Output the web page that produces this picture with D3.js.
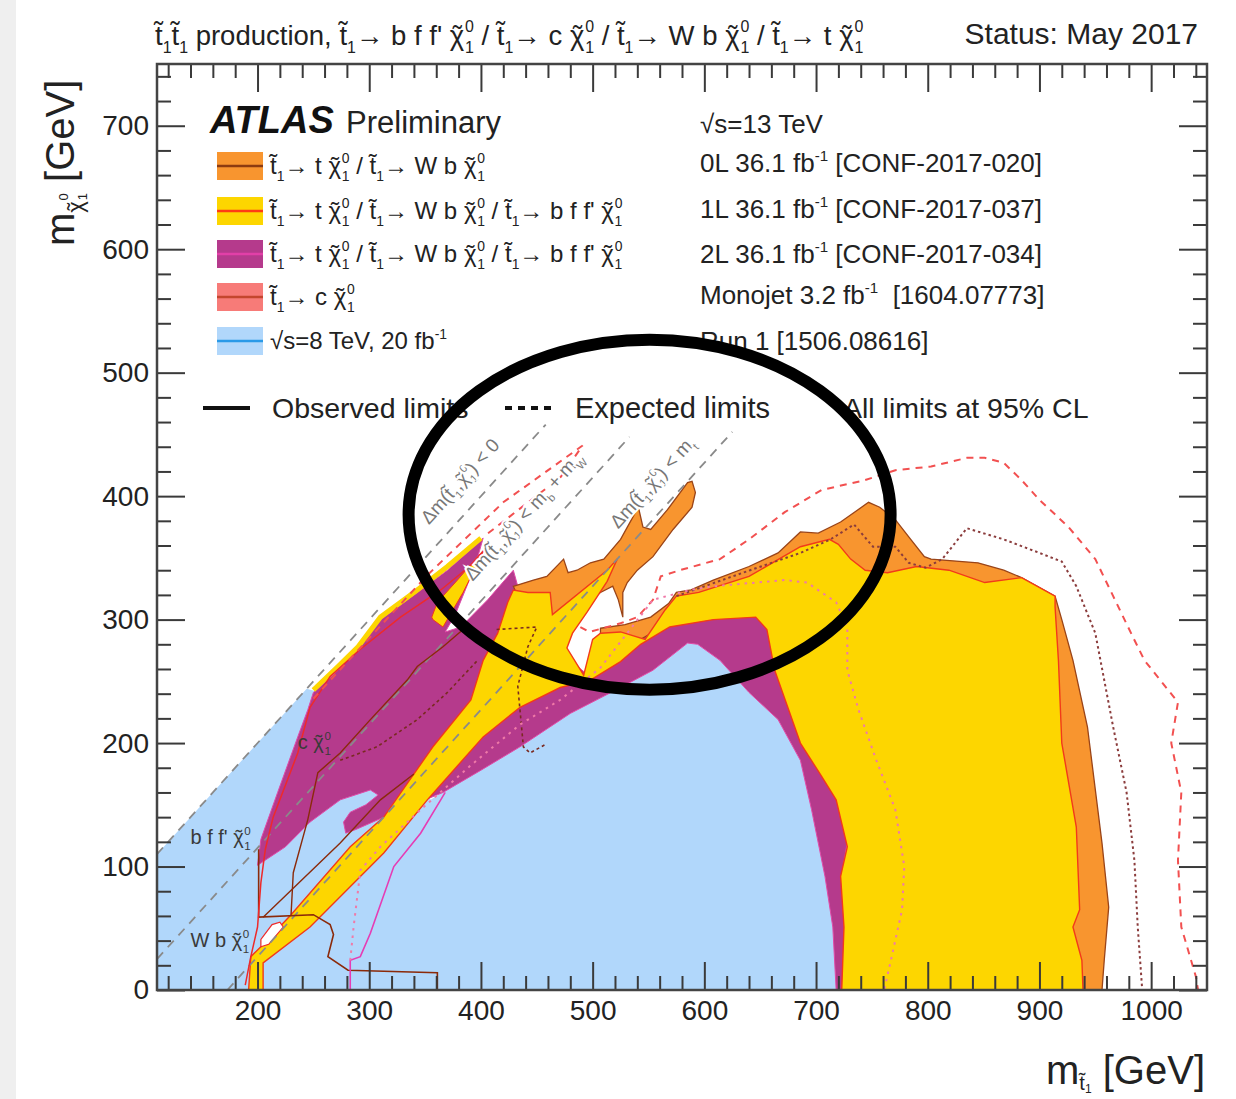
<!DOCTYPE html>
<html>
<head>
<meta charset="utf-8">
<script src="https://cdn.jsdelivr.net/npm/d3@7"></script>
<style>
body { margin: 0; background: #fff; }
text { font-family: "Liberation Sans", Arial, sans-serif; white-space: pre; }
</style>
</head>
<body>
<script>

// ---- data (GeV) ----
const xDomain = [110, 1050]
const yDomain = [0, 750]
const xMajor = [200, 300, 400, 500, 600, 700, 800, 900, 1000]
const yMajor = [0, 100, 200, 300, 400, 500, 600, 700]

// filled exclusion regions: [m_stop, m_LSP]
const run1Region = [[110,0],[110,110],[244,244],[300,230],[310,235],[355,154],[375,166],[435,197],[480,224],[525,245],[554,259],[585,281],[594,280],[614,267],[640,241],[666,219],[686,186],[696,146],[708,92],[715,51],[718,0]]

const twoLRegion = [[200,101],[203,122],[218,160],[236,205],[245,227],[250,241],[272,259],[290,276],[310,300],[343,322],[370,340],[402,366],[395,344],[386,324],[377,304],[368,290],[382,294],[406,316],[429,340],[433,327],[456,284],[492,258],[507,259],[525,270],[543,284],[569,298],[608,304],[646,306],[656,296],[663,263],[686,204],[705,177],[718,158],[728,120],[723,92],[727,51],[725,0],[718,0],[715,51],[708,92],[696,146],[686,186],[666,219],[640,241],[614,267],[594,280],[585,281],[554,259],[525,245],[480,224],[435,197],[400,178],[366,160],[313,140],[288,130],[279,127],[277,136],[283,144],[297,150],[308,158],[301,162],[274,154],[247,136],[225,116]]

const zeroLRegion = [[507,293],[529,296],[552,302],[568,313],[575,322],[588,324],[608,332],[640,343],[666,354],[686,371],[702,370],[722,379],[747,395],[757,391],[771,381],[783,367],[797,351],[803,349],[845,346],[868,340],[884,334],[914,319],[920,300],[930,267],[943,213],[956,119],[962,67],[958,24],[956,0],[775,0],[760,150],[700,310],[600,315],[568,297],[543,284],[507,286]]

const zeroLSpike = [[429,327],[447,332],[459,335],[474,349],[478,338],[486,340],[498,346],[510,349],[525,365],[536,383],[541,391],[545,375],[552,373],[567,389],[585,411],[589,412],[592,403],[589,391],[572,373],[554,351],[540,340],[531,330],[527,322],[527,302],[523,316],[518,327],[507,322],[486,308],[471,297],[459,294],[442,300]]

const oneLRegion = [[192,0],[194,27],[203,35],[230,61],[283,116],[313,140],[357,197],[391,235],[402,267],[415,289],[424,314],[429,324],[442,322],[462,322],[464,304],[513,340],[522,349],[513,331],[495,306],[482,289],[477,277],[492,255],[500,284],[507,289],[525,290],[547,284],[565,308],[575,319],[595,322],[640,335],[686,359],[712,365],[720,361],[731,349],[744,340],[764,338],[790,343],[819,340],[851,330],[884,334],[914,319],[914,310],[917,267],[920,200],[933,132],[936,65],[930,51],[938,24],[939,0],[723,0],[725,51],[722,92],[728,116],[718,154],[705,173],[686,200],[663,259],[656,292],[646,302],[608,300],[569,294],[543,280],[525,266],[498,251],[471,245],[435,229],[402,205],[352,154],[313,111],[247,51],[205,22],[205,0]]

const oneLSpike = [[357,300],[366,294],[384,322],[400,351],[402,356],[397,351],[379,332],[361,314],[356,302]]
const oneLEdge = [[250,243],[272,262],[290,278],[310,302],[343,324],[370,343],[400,366]]
const monojetGap = [[203,35],[210,37],[223,51],[220,55],[213,53],[203,41]]

// limit contours
const oneLObsEdge = [[189,4],[194,27],[200,51],[203,87],[207,114],[214,140],[236,192],[247,229],[265,254],[292,276],[328,302],[364,324],[391,344],[408,361]]
const oneLExpectedUpper = [[250,236],[300,285],[352,336],[420,395],[491,441],[471,415],[405,369]]
const oneLExpectedRight = [[489,294],[497,290],[525,297],[540,302],[554,316],[561,335],[578,340],[614,349],[640,365],[672,387],[705,405],[744,413],[771,421],[803,424],[835,431],[851,431],[868,427],[884,413],[900,397],[926,375],[950,349],[966,319],[982,289],[994,267],[1024,233],[1018,200],[1027,160],[1024,105],[1027,51],[1040,11],[1042,0]]
const zeroLExpected = [[575,319],[641,340],[686,354],[713,365],[734,377],[751,359],[771,359],[783,346],[798,342],[813,349],[835,374],[868,365],[900,354],[920,347],[933,327],[950,289],[966,213],[978,160],[985,105],[988,51],[992,0]]
const zeroLExpectedLow = [[414,292],[450,294],[442,278],[433,246],[438,197],[444,192],[458,199]]
const zeroLExpectedLobe = [[274,186],[307,197],[343,219],[370,241],[397,267]]
const zeroLObsLobe = [[230,61],[232,95],[245,138],[254,176],[274,192],[301,219],[334,251],[343,262],[366,278],[384,292]]
const zeroLObsBottom = [[201,114],[201,59],[250,61],[265,53],[268,45],[263,27],[281,16],[361,14],[361,0]]
const zeroLObsDiag = [[205,59],[274,119],[310,154],[340,175]]
const twoLObserved = [[283,0],[283,24],[292,27],[301,46],[322,100],[346,127],[364,154],[368,160]]
const twoLExpected = [[283,24],[286,51],[290,81],[292,97],[310,116],[346,146],[391,182],[435,215],[471,235],[507,261],[554,316],[587,324],[608,327],[672,332],[692,330],[718,314],[728,294],[728,259],[738,227],[754,186],[771,146],[779,100],[777,65],[767,24],[761,0]]

// kinematic boundaries
const kinLines = [[[110,110],[458,458]], [[110,25],[533,448]], [[173,0],[625,452]]]
const kinLabelAt = [[398,398],[455,370],[570,397]]

// '§' = neutralino symbol (chi with tilde), T = stop
const T = 't\u0303', CHI = '§'
const kinLabels = [
	`\u0394m(${T}_{1},${CHI}_{1}^{0}) < 0`,
	`\u0394m(${T}_{1},${CHI}_{1}^{0}) < m_{b} + m_{W}`,
	`\u0394m(${T}_{1},${CHI}_{1}^{0}) < m_{t}`
]
const regionLabels = [`b f f' ${CHI}_{1}^{0}`, `W b ${CHI}_{1}^{0}`, `c ${CHI}_{1}^{0}`]
const regionLabelAt = [[140,118],[140,35],[236,195]]

const legendLabels = [
	`${T}_{1}\u2192 t ${CHI}_{1}^{0} / ${T}_{1}\u2192 W b ${CHI}_{1}^{0}`,
	`${T}_{1}\u2192 t ${CHI}_{1}^{0} / ${T}_{1}\u2192 W b ${CHI}_{1}^{0} / ${T}_{1}\u2192 b f f' ${CHI}_{1}^{0}`,
	`${T}_{1}\u2192 t ${CHI}_{1}^{0} / ${T}_{1}\u2192 W b ${CHI}_{1}^{0} / ${T}_{1}\u2192 b f f' ${CHI}_{1}^{0}`,
	`${T}_{1}\u2192 c ${CHI}_{1}^{0}`,
	`\u221As=8 TeV, 20 fb^{-1}`
]
const infoLabels = [
	'\u221As=13 TeV',
	'0L 36.1 fb^{-1} [CONF-2017-020]',
	'1L 36.1 fb^{-1} [CONF-2017-037]',
	'2L 36.1 fb^{-1} [CONF-2017-034]',
	'Monojet 3.2 fb^{-1}  [1604.07773]',
	'Run 1 [1506.08616]'
]
const titleText = `${T}_{1}${T}_{1} production, ${T}_{1}\u2192 b f f' ${CHI}_{1}^{0} / ${T}_{1}\u2192 c ${CHI}_{1}^{0} / ${T}_{1}\u2192 W b ${CHI}_{1}^{0} / ${T}_{1}\u2192 t ${CHI}_{1}^{0}`

// ---- styling ----
const fills = { run1: '#b1d7fb', twoL: '#b53a8c', zeroL: '#f8952f', oneL: '#fdd600', mono: '#f77b78' }
const legendFill = [fills.zeroL, fills.oneL, fills.twoL, fills.mono, fills.run1]
const legendLine = ['#8c3b10', '#ff3c14', '#e23fa8', '#c4462e', '#2a9ae8']

const width = 1236, height = 1099
const plot = { left: 157, right: 1207, top: 64, bottom: 990 }

const x = d3.scaleLinear().domain(xDomain).range([plot.left, plot.right])
const y = d3.scaleLinear().domain(yDomain).range([plot.bottom, plot.top])
const line = d3.line().x(d => x(d[0])).y(d => y(d[1]))
const area = pts => line(pts) + 'Z'

const svg = d3.select('body').append('svg')
	.attr('width', width)
	.attr('height', height)

svg.append('rect').attr('width', width).attr('height', height).attr('fill', '#fff')
svg.append('rect').attr('width', 16).attr('height', height).attr('fill', '#efefef')

// rich text: _{sub} ^{sup} _{sub}^{sup} (stacked) and § for chi-tilde
function rich(sel, str, fs) {
	const re = /(_\{[^}]*\}\^\{[^}]*\}|_\{[^}]*\}|\^\{[^}]*\}|§)/
	let cur = 0, pend = 0
	const s = fs * 0.58
	str.split(re).filter(p => p && p.length).forEach(p => {
		if (p === '§') {
			sel.append('tspan').attr('dx', pend).attr('dy', -cur).text('\u03c7')
			cur = 0
			// tilde drawn back over the chi
			sel.append('tspan').attr('dx', -0.4167 * fs).text('\u02dc')
			pend = 0.0833 * fs
			return
		}
		let m = p.match(/^_\{([^}]*)\}\^\{([^}]*)\}$/)
		if (m) {
			sel.append('tspan').attr('dx', pend + fs * 0.03).attr('dy', -fs * 0.46 - cur).attr('font-size', s).text(m[2])
			sel.append('tspan').attr('dx', -s * 0.556 * m[2].length).attr('dy', fs * 0.76).attr('font-size', s).text(m[1])
			cur = fs * 0.3
			pend = 0
			return
		}
		m = p.match(/^_\{([^}]*)\}$/)
		if (m) {
			sel.append('tspan').attr('dx', pend).attr('dy', fs * 0.3 - cur).attr('font-size', s).text(m[1])
			cur = fs * 0.3
			pend = 0
			return
		}
		m = p.match(/^\^\{([^}]*)\}$/)
		if (m) {
			sel.append('tspan').attr('dx', pend).attr('dy', -fs * 0.42 - cur).attr('font-size', s).text(m[1])
			cur = -fs * 0.42
			pend = 0
			return
		}
		sel.append('tspan').attr('dx', pend).attr('dy', -cur).text(p)
		cur = 0
		pend = 0
	})
	return sel
}

svg.append('clipPath').attr('id', 'clip')
	.append('rect')
	.attr('x', plot.left).attr('y', plot.top)
	.attr('width', plot.right - plot.left).attr('height', plot.bottom - plot.top)

const g = svg.append('g').attr('clip-path', 'url(#clip)')

// regions
g.append('path').attr('d', area(run1Region)).attr('fill', fills.run1)
g.append('path').attr('d', area(twoLRegion)).attr('fill', fills.twoL)
	.attr('stroke', '#e04aa8').attr('stroke-width', 1)
g.append('path').attr('d', area(zeroLRegion)).attr('fill', fills.zeroL)
	.attr('stroke', '#9a4418').attr('stroke-width', 1.3)
g.append('path').attr('d', area(zeroLSpike)).attr('fill', fills.zeroL)
	.attr('stroke', '#9a4418').attr('stroke-width', 1.3)
g.append('path').attr('d', area(oneLRegion)).attr('fill', fills.oneL)
	.attr('stroke', '#f23a1a').attr('stroke-width', 1.4)
g.append('path').attr('d', area(oneLSpike)).attr('fill', fills.oneL)
	.attr('stroke', '#f23a1a').attr('stroke-width', 1)
g.append('path').attr('d', line(oneLEdge)).attr('fill', 'none')
	.attr('stroke', fills.oneL).attr('stroke-width', 5)
g.append('path').attr('d', area(monojetGap)).attr('fill', '#fff')
	.attr('stroke', '#ee2a2a').attr('stroke-width', 1.2)

// kinematic lines
g.selectAll('.kin')
	.data(kinLines)
	.enter().append('path')
	.attr('d', d => line(d))
	.attr('fill', 'none')
	.attr('stroke', '#8a8a8a')
	.attr('stroke-width', 1.8)
	.attr('stroke-dasharray', '9,7')

// contours
const contours = [
	[zeroLObsBottom, '#8b2a0a', 1.6, null],
	[zeroLObsDiag, '#8b2a0a', 1.4, null],
	[zeroLObsLobe, '#8b2a0a', 1.4, null],
	[zeroLExpectedLobe, '#7a2a20', 1.6, '3,3'],
	[zeroLExpectedLow, '#7a2a20', 1.6, '3,3'],
	[zeroLExpected, '#8b3c3c', 2, '2.5,3'],
	[oneLObsEdge, '#ee2a2a', 1.5, null],
	[oneLExpectedUpper, '#f25050', 2, '7,6'],
	[oneLExpectedRight, '#f25050', 2, '7,6'],
	[twoLObserved, '#e63cb4', 1.6, null],
	[twoLExpected, '#f07aa8', 2, '2.5,5']
]
contours.forEach(c => {
	g.append('path')
		.attr('d', line(c[0]))
		.attr('fill', 'none')
		.attr('stroke', c[1])
		.attr('stroke-width', c[2])
		.attr('stroke-dasharray', c[3])
})

// kinematic labels along the lines
const angle = Math.atan2(y(1) - y(0), x(1) - x(0)) * 180 / Math.PI
kinLabels.forEach((t, i) => {
	const px = x(kinLabelAt[i][0]) - 14, py = y(kinLabelAt[i][1]) - 13
	const txt = svg.append('text')
		.attr('transform', `translate(${px},${py}) rotate(${angle})`)
		.attr('text-anchor', 'middle')
		.attr('font-size', 19)
		.attr('fill', '#777')
		.attr('stroke', '#fff').attr('stroke-width', 4).attr('paint-order', 'stroke')
	rich(txt, t, 19)
})

regionLabels.forEach((t, i) => {
	const txt = svg.append('text')
		.attr('x', x(regionLabelAt[i][0]))
		.attr('y', y(regionLabelAt[i][1]))
		.attr('font-size', 20)
		.attr('fill', '#3a3a3a')
	rich(txt, t, 20)
})

// axes
const xMinor = d3.range(120, 1050, 20).filter(v => v % 100)
const yMinor = d3.range(20, 750, 20).filter(v => v % 100)

function styleAxis(sel) {
	sel.select('.domain').remove()
	sel.attr('font-family', '"Liberation Sans", Arial, sans-serif').attr('font-size', 28)
	sel.selectAll('.tick line').attr('stroke', '#3a3a3a').attr('stroke-width', 2)
	sel.selectAll('.tick text').attr('fill', '#222')
}

svg.append('g').attr('transform', `translate(0,${plot.bottom})`)
	.call(d3.axisBottom(x).tickValues(xMajor).tickSize(-28).tickPadding(10).tickFormat(d3.format('d')))
	.call(styleAxis)
svg.append('g').attr('transform', `translate(0,${plot.bottom})`)
	.call(d3.axisBottom(x).tickValues(xMinor).tickSize(-14).tickFormat(''))
	.call(styleAxis)
svg.append('g').attr('transform', `translate(0,${plot.top})`)
	.call(d3.axisTop(x).tickValues(xMajor).tickSize(-28).tickFormat(''))
	.call(styleAxis)
svg.append('g').attr('transform', `translate(0,${plot.top})`)
	.call(d3.axisTop(x).tickValues(xMinor).tickSize(-14).tickFormat(''))
	.call(styleAxis)
svg.append('g').attr('transform', `translate(${plot.left},0)`)
	.call(d3.axisLeft(y).tickValues(yMajor).tickSize(-28).tickPadding(8).tickFormat(d3.format('d')))
	.call(styleAxis)
svg.append('g').attr('transform', `translate(${plot.left},0)`)
	.call(d3.axisLeft(y).tickValues(yMinor).tickSize(-14).tickFormat(''))
	.call(styleAxis)
svg.append('g').attr('transform', `translate(${plot.right},0)`)
	.call(d3.axisRight(y).tickValues(yMajor).tickSize(-28).tickFormat(''))
	.call(styleAxis)
svg.append('g').attr('transform', `translate(${plot.right},0)`)
	.call(d3.axisRight(y).tickValues(yMinor).tickSize(-14).tickFormat(''))
	.call(styleAxis)

svg.append('rect')
	.attr('x', plot.left).attr('y', plot.top)
	.attr('width', plot.right - plot.left).attr('height', plot.bottom - plot.top)
	.attr('fill', 'none').attr('stroke', '#444').attr('stroke-width', 2.5)

// axis titles
const yl = svg.append('text')
	.attr('transform', 'translate(74,246) rotate(-90)')
	.attr('font-size', 40).attr('fill', '#222')
yl.append('tspan').text('m')
yl.append('tspan').attr('font-size', 22).attr('dy', 9).text('\u03c7')
yl.append('tspan').attr('font-size', 22).attr('dx', -9.2).text('\u02dc')
yl.append('tspan').attr('font-size', 13).attr('dx', 2.5).attr('dy', -15).text('0')
yl.append('tspan').attr('font-size', 13).attr('dx', -7).attr('dy', 19).text('1')
yl.append('tspan').attr('dy', -13).text(' [GeV]')

const xl = svg.append('text')
	.attr('x', 1205).attr('y', 1084)
	.attr('text-anchor', 'end')
	.attr('font-size', 40).attr('fill', '#222')
xl.append('tspan').text('m')
xl.append('tspan').attr('font-size', 20).attr('dy', 6).text(T)
xl.append('tspan').attr('font-size', 12).attr('dy', 3).text('1')
xl.append('tspan').attr('dy', -9).text(' [GeV]')

// header
rich(svg.append('text').attr('x', 155).attr('y', 45).attr('font-size', 27.5).attr('fill', '#222'), titleText, 27.5)
svg.append('text').attr('x', 1198).attr('y', 44).attr('text-anchor', 'end')
	.attr('font-size', 30).attr('fill', '#222').text('Status: May 2017')

// legend
svg.append('text').attr('x', 210).attr('y', 133)
	.attr('font-size', 38).attr('font-weight', 'bold').attr('font-style', 'italic')
	.attr('fill', '#111').text('ATLAS')
svg.append('text').attr('x', 346).attr('y', 133)
	.attr('font-size', 31).attr('fill', '#222').text('Preliminary')

const legendY = [166, 211, 254, 297, 341]
legendY.forEach((ly, i) => {
	svg.append('rect').attr('x', 217).attr('y', ly - 14).attr('width', 46).attr('height', 28)
		.attr('fill', legendFill[i])
	svg.append('line').attr('x1', 217).attr('x2', 263).attr('y1', ly).attr('y2', ly)
		.attr('stroke', legendLine[i]).attr('stroke-width', 2.5)
	rich(svg.append('text').attr('x', 270).attr('y', ly + 8).attr('font-size', 24).attr('fill', '#222'),
		legendLabels[i], 24)
})

const infoY = [133, 172, 218, 263, 304, 350]
infoY.forEach((iy, i) => {
	rich(svg.append('text').attr('x', 700).attr('y', iy).attr('font-size', 26).attr('fill', '#222'),
		infoLabels[i], 26)
})

svg.append('line').attr('x1', 203).attr('x2', 250).attr('y1', 408).attr('y2', 408)
	.attr('stroke', '#111').attr('stroke-width', 4)
svg.append('line').attr('x1', 505).attr('x2', 552).attr('y1', 408).attr('y2', 408)
	.attr('stroke', '#111').attr('stroke-width', 4).attr('stroke-dasharray', '7,6')
svg.append('text').attr('x', 272).attr('y', 418).attr('font-size', 28.5).attr('fill', '#222').text('Observed limits')
svg.append('text').attr('x', 575).attr('y', 418).attr('font-size', 29).attr('fill', '#222').text('Expected limits')
svg.append('text').attr('x', 843).attr('y', 418).attr('font-size', 28.5).attr('fill', '#222').text('All limits at 95% CL')

// hand-drawn highlight ring
svg.append('ellipse')
	.attr('cx', x(551)).attr('cy', y(385))
	.attr('rx', 241).attr('ry', 175)
	.attr('fill', 'none').attr('stroke', '#000').attr('stroke-width', 12)

</script>
</body>
</html>
